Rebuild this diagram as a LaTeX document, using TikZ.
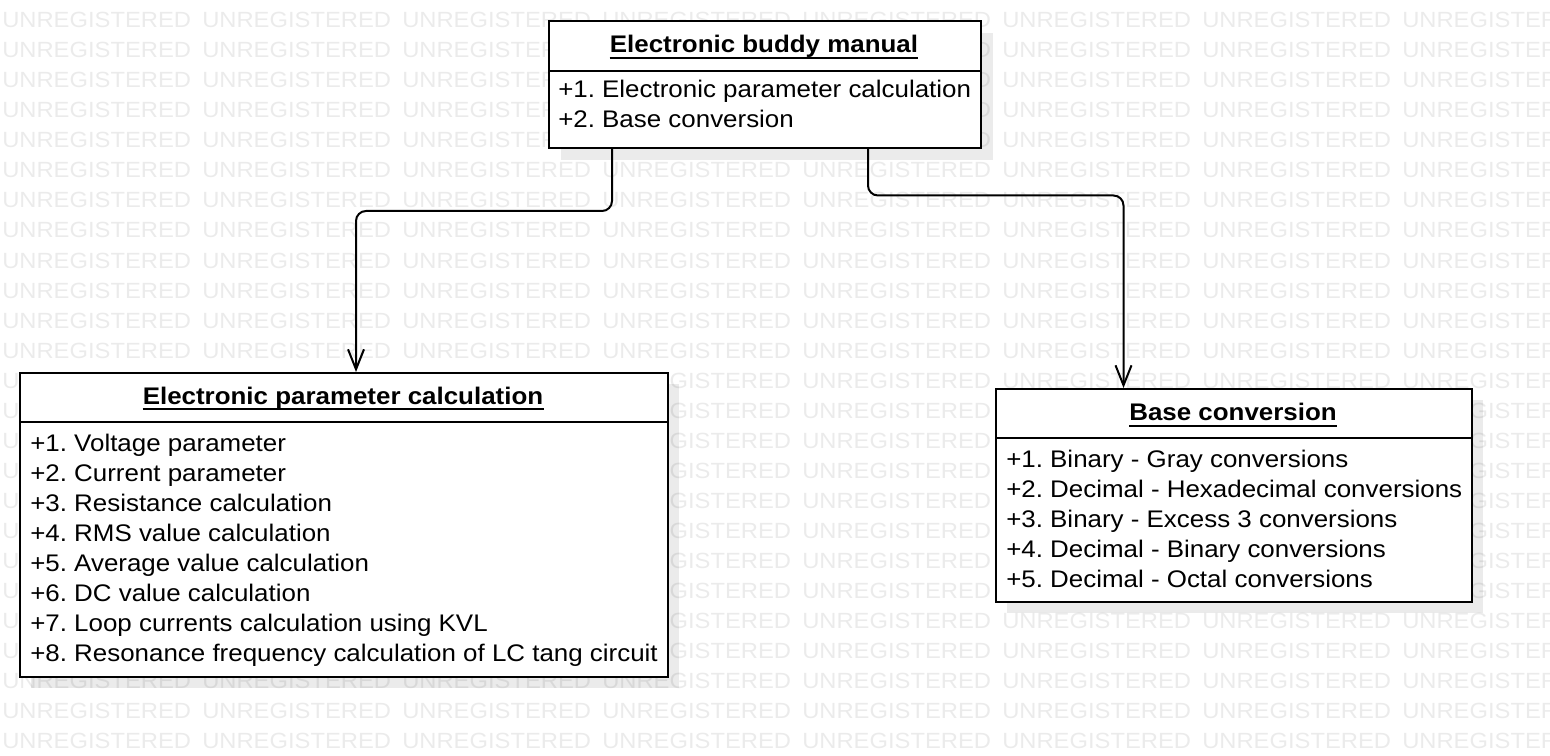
\documentclass[tikz,border=0pt]{standalone}
\usepackage{fontspec}
\setmainfont{Liberation Sans}[FakeStretch=1.08]
\usetikzlibrary{arrows.meta}
\frenchspacing
\begin{document}
\frenchspacing
\begin{tikzpicture}[x=0.75pt,y=-0.75pt,
  box/.style={draw=black, fill=white, line width=1.5pt, inner sep=0pt, anchor=north west},
  shadowfill/.style={fill=black!8},
  title/.style={font=\fontsize{18}{22}\selectfont\bfseries, inner sep=0pt, anchor=base},
  item/.style={font=\fontsize{18}{22}\selectfont\frenchspacing, inner sep=0pt, anchor=base west},
  wmark/.style={font=\fontsize{16.5}{20}\selectfont, text=black, text opacity=0.08, inner sep=0pt, anchor=base west},
  divider/.style={line width=1.5pt},
  uline/.style={line width=1.5pt},
  conn/.style={line width=1.5pt, rounded corners=7.5pt, -{Straight Barb[length=15pt,width=12pt]}}
]
\useasboundingbox (0,0) rectangle (1550,756);
\fill[white] (0,0) rectangle (1550,756);
% shadows
\fill[shadowfill] (561,33) rectangle (993,160);
\fill[shadowfill] (31,384) rectangle (679,688);
\fill[shadowfill] (1007,400) rectangle (1483,613);
% watermark
\foreach \r in {0,...,24}
  \foreach \c in {0,...,7}
    \node[wmark] at ({2+200*\c},{28+30*\r}) {UNREGISTERED};
% boxes
\node[box, minimum width=324pt, minimum height=95.25pt] (b1) at (548,20) {};
\node[box, minimum width=486pt, minimum height=228pt] (b2) at (19,372) {};
\node[box, minimum width=357pt, minimum height=160.1pt] (b3) at (995,388) {};
% dividers
\coordinate (d1) at (0,71);
\coordinate (d2) at (0,421.5);
\coordinate (d3) at (0,437.7);
\draw[divider] (b1.west |- d1) -- (b1.east |- d1);
\draw[divider] (b2.west |- d2) -- (b2.east |- d2);
\draw[divider] (b3.west |- d3) -- (b3.east |- d3);
% titles
\node[title] (t1) at (764,53) {Electronic buddy manual};
\node[title] (t2) at (343,404) {Electronic parameter calculation};
\node[title] (t3) at (1233,420.5) {Base conversion};
\foreach \t in {t1,t2,t3}
  \draw[uline] ([yshift=-4pt]\t.base west) -- ([yshift=-4pt]\t.base east);
% items
\foreach \s [count=\i] in {+1. Electronic parameter calculation,+2. Base conversion}
  \node[item] (m\i) at (558,{98+30*(\i-1)}) {\s};
\foreach \s [count=\i] in {+1. Voltage parameter,+2. Current parameter,+3. Resistance calculation,+4. RMS value calculation,+5. Average value calculation,+6. DC value calculation,+7. Loop currents calculation using KVL,+8. Resonance frequency calculation of LC tang circuit}
  \node[item] (p\i) at (30,{451+30*(\i-1)}) {\s};
\foreach \s [count=\i] in {+1. Binary - Gray conversions,+2. Decimal - Hexadecimal conversions,+3. Binary - Excess 3 conversions,+4. Decimal - Binary conversions,+5. Decimal - Octal conversions}
  \node[item] (c\i) at (1006,{467+30*(\i-1)}) {\s};
% connectors
\coordinate (s1) at (612,0);
\coordinate (s2) at (868,0);
\coordinate (h1) at (0,211);
\coordinate (h2) at (0,195.5);
\coordinate (a2) at (356,0);
\coordinate (a3) at (1123.5,0);
\draw[conn] (b1.south -| s1) -- (s1 |- h1) -- (a2 |- h1) -- (a2 |- b2.north);
\draw[conn] (b1.south -| s2) -- (s2 |- h2) -- (a3 |- h2) -- (a3 |- b3.north);
\end{tikzpicture}
\end{document}
